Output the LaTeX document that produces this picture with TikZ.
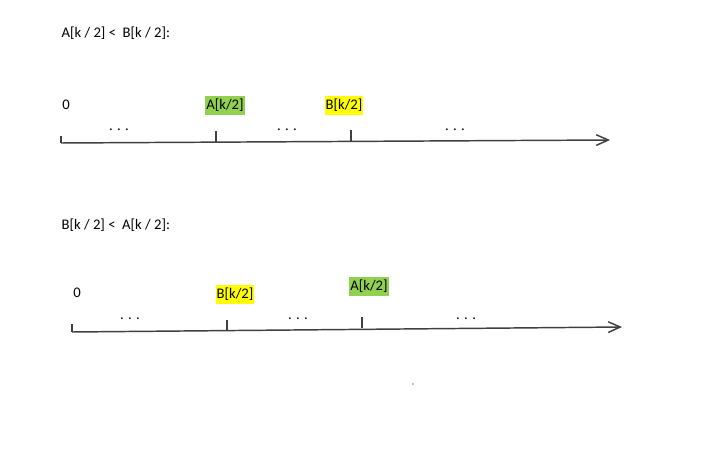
\documentclass[tikz,border=0pt]{standalone}
\usepackage{fontspec}
\setmainfont{Carlito}
\usetikzlibrary{arrows.meta}

\definecolor{hlgreen}{HTML}{92D050}
\definecolor{hlyellow}{HTML}{FFFF00}
\definecolor{axisgray}{HTML}{404040}

\begin{document}
\begin{tikzpicture}[x=0.75pt, y=-0.75pt,
		every node/.style={font=\fontsize{11}{13}\selectfont, text=black, inner sep=1pt},
		axisline/.style={draw=axisgray, line width=1.1pt, -{Straight Barb[length=9pt, width=8pt, line width=1.1pt]}},
		tickline/.style={draw=axisgray, line width=1.1pt},
		marklabel/.style={inner xsep=0.8pt, inner ysep=2pt, text height=8pt, text depth=2.5pt}]
			\useasboundingbox (0,0) rectangle (722,449);
			
			% Nodes
			\node[anchor=west] (t1) at (60,33) {A[k / 2] <\ \ B[k / 2]:};
			\node (z1) at (66,105) {0};
			\node[marklabel, fill=hlgreen] (a1) at (225,105.5) {A[k/2]};
			\node[marklabel, fill=hlyellow] (b1) at (344,105.5) {B[k/2]};
			\node (d11) at (119,130) {. . .};
			\node (d12) at (287,130) {. . .};
			\node (d13) at (455,130) {. . .};
			\coordinate (s1) at (61,143);
			\coordinate (e1) at (610,140);
			\coordinate (p1) at (216,142);
			\coordinate (q1) at (351,141);
			
			\node[anchor=west] (t2) at (60,225) {B[k / 2] <\ \ A[k / 2]:};
			\node (z2) at (77,293) {0};
			\node[marklabel, fill=hlyellow] (b2) at (235,294.5) {B[k/2]};
			\node[marklabel, fill=hlgreen] (a2) at (369,286.5) {A[k/2]};
			\node (d21) at (130,319) {. . .};
			\node (d22) at (298,319) {. . .};
			\node (d23) at (466,319) {. . .};
			\coordinate (s2) at (72,332);
			\coordinate (e2) at (622,327);
			\coordinate (p2) at (227,331);
			\coordinate (q2) at (362,328);
			
			\fill[gray] (413,384) circle (0.9);
			
			% Edges
			\path[axisline] (s1) -- (e1);
			\path[tickline] (s1) -- ++(0,-7);
			\path[tickline] (p1) -- ++(0,-11);
			\path[tickline] (q1) -- ++(0,-11);
			
			\path[axisline] (s2) -- (e2);
			\path[tickline] (s2) -- ++(0,-8);
			\path[tickline] (p2) -- ++(0,-11);
			\path[tickline] (q2) -- ++(0,-11);
		\end{tikzpicture}
\end{document}
